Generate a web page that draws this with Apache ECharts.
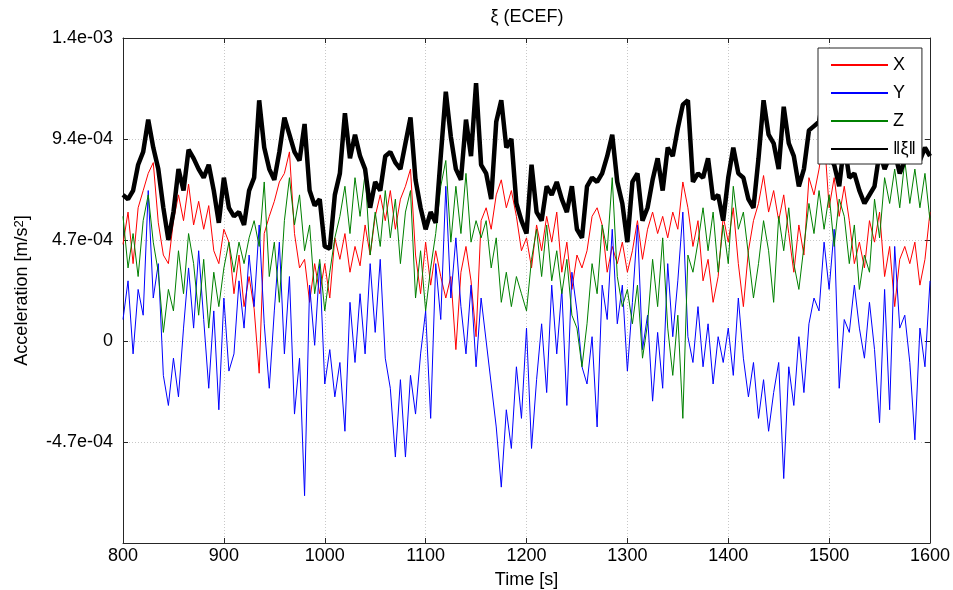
<!DOCTYPE html>
<html><head><meta charset="utf-8">
<script src="https://cdn.jsdelivr.net/npm/echarts@6/dist/echarts.min.js"></script>
<style>html,body{margin:0;padding:0;background:#fff}#c{width:953px;height:590px}</style>
</head><body><div id="c"></div>
<script>
// sample grid (s) and value unit (values below are in 1e-4 m/s^2)
const T_START = 800, T_STEP = 5;
const UNIT = 1e-4;
const seriesNames = ['X', 'Y', 'Z', '\u2016\u03be\u2016'];

const xVals = [
 4.5,6.0,3.6,6.2,7.0,7.8,8.3,5.5,4.0,3.6,5.6,6.8,5.6,7.3,5.4,6.5,5.2,6.3,4.2,3.6,
 5.2,4.6,2.2,4.0,1.6,3.0,1.5,-1.5,5.0,5.8,6.5,7.4,7.8,8.8,5.0,3.4,3.8,1.8,3.6,2.2,
 3.6,2.0,4.8,3.8,5.0,3.2,4.4,3.5,5.4,4.0,5.8,6.8,5.6,7.0,5.2,6.6,7.2,8.0,4.0,2.2,
 4.6,2.6,4.2,3.0,2.0,3.0,-0.4,3.2,4.4,2.8,0.2,5.6,6.2,5.2,6.8,7.5,6.2,7.0,5.8,4.2,
 4.8,3.4,5.4,4.2,5.8,4.6,6.0,3.2,4.6,2.4,4.0,3.4,4.2,5.8,6.2,5.4,3.2,4.4,3.6,4.6,
 3.2,4.2,5.6,3.8,5.2,6.0,5.0,5.8,4.8,6.0,5.2,7.4,6.2,4.4,5.6,2.8,3.8,1.8,3.0,5.8,
 4.6,6.2,3.6,1.6,4.2,5.6,6.4,7.7,6.0,7.0,5.6,6.8,5.0,3.2,5.4,4.0,7.6,6.8,8.0,9.6,
 6.2,7.6,5.8,7.2,5.6,3.6,4.6,3.4,5.6,4.6,6.0,3.0,4.4,1.6,3.8,4.4,3.6,4.6,2.6,3.8,
 6.0];
const yVals = [
 1.0,2.8,-0.6,2.4,1.2,7.0,2.0,3.6,-1.6,-3.0,-0.8,-2.6,0.6,3.4,0.6,4.2,1.0,-2.2,1.4,-3.2,
 2.0,-1.4,-0.6,2.8,0.6,4.0,1.6,5.4,0.8,-2.2,1.4,4.6,-0.6,3.0,-3.4,-0.8,-7.2,2.6,-0.2,3.6,
 -2.0,-0.4,-2.6,-1.0,-4.2,1.8,-1.0,2.2,-0.6,3.6,0.4,3.8,-0.8,-2.2,-5.4,-1.8,-5.4,-1.6,-3.4,-0.6,
 1.4,-3.6,3.6,1.0,7.2,2.0,4.8,1.6,-0.6,2.6,-1.2,2.0,0.0,-2.0,-4.0,-6.8,-3.2,-5.0,-1.2,-3.6,
 0.6,-5.0,-1.8,0.8,-2.4,2.6,-0.6,2.4,-3.0,3.2,1.4,-1.2,-2.0,0.2,-4.0,2.6,1.0,5.2,0.8,2.6,
 -1.4,1.8,5.4,-0.4,1.2,-2.8,0.4,-2.2,3.6,0.2,2.8,6.0,0.2,-1.0,1.6,-1.2,0.8,-2.0,0.2,-1.0,
 0.6,-1.6,2.0,-0.8,-2.6,-1.0,-3.6,-1.8,-4.2,-2.4,-1.0,-6.4,-1.2,-3.0,0.2,-2.4,0.8,2.0,1.4,4.6,
 2.4,5.2,-2.2,1.0,0.4,2.6,0.6,-0.8,1.8,-0.4,-3.8,2.4,-3.2,4.4,0.6,1.2,-1.0,-4.6,0.6,-1.2,
 2.8];
const zVals = [
 5.8,3.4,5.0,3.0,5.6,6.8,4.6,3.2,0.4,2.4,1.4,4.2,2.2,5.0,3.6,1.2,3.8,0.6,3.2,1.6,
 3.4,4.6,3.2,4.6,3.6,4.8,5.6,4.4,7.4,3.0,4.6,1.8,5.6,7.6,5.4,6.8,4.2,5.4,2.2,3.8,
 1.4,3.2,4.8,5.8,7.2,5.0,7.6,5.8,7.8,4.0,6.0,4.4,7.0,4.8,6.6,3.6,6.0,7.0,2.0,4.2,
 1.4,3.4,5.0,7.2,8.4,4.6,7.2,5.0,7.8,4.6,5.6,4.8,5.6,3.4,4.8,1.8,3.2,1.6,3.0,2.2,
 1.4,3.8,5.2,3.0,5.4,2.8,4.2,2.2,3.8,1.2,0.6,-1.2,0.8,3.6,2.2,5.4,4.2,7.6,3.0,1.6,
 2.4,0.8,2.6,-0.8,0.8,3.8,1.6,4.8,0.6,-1.6,1.2,-3.6,4.0,3.2,4.6,6.2,4.2,6.0,3.2,5.4,
 3.6,7.2,5.2,6.0,4.0,2.0,3.6,5.6,4.2,1.8,5.8,4.2,6.2,3.6,2.4,4.4,6.4,5.0,7.0,5.2,
 6.8,4.4,6.6,5.8,3.6,5.4,2.4,4.0,3.2,6.6,4.8,7.6,6.4,8.0,6.2,8.4,6.4,8.0,6.2,7.8,
 5.6];
const normVals = [
 6.8,6.6,7.0,8.2,8.8,10.3,9.0,8.0,6.2,4.7,6.0,8.0,7.0,8.9,8.5,8.0,7.6,8.2,7.0,5.5,
 7.6,6.2,5.8,6.0,5.4,7.0,7.6,11.2,9.0,8.0,7.5,8.8,10.4,9.6,8.8,8.4,10.1,7.0,6.3,6.6,
 4.4,4.3,6.8,7.8,10.6,8.5,9.6,8.6,8.0,6.2,7.4,7.0,8.6,8.8,8.3,8.0,9.2,10.4,7.5,6.2,
 5.2,6.0,5.5,8.6,11.6,9.5,8.0,7.5,10.3,8.6,12.0,8.2,7.8,6.6,10.2,11.2,9.0,9.4,6.4,5.6,
 5.0,8.2,6.0,5.6,7.2,6.8,7.4,6.6,6.0,7.2,5.2,4.8,7.2,7.6,7.4,7.8,8.6,9.6,7.4,6.4,
 4.6,7.4,7.8,5.6,6.2,7.5,8.5,7.0,9.0,8.6,9.9,11.0,11.2,7.4,7.8,7.6,8.5,6.6,6.8,5.6,
 7.6,9.0,7.8,7.6,6.6,6.2,8.5,11.2,9.6,9.2,8.0,10.9,9.2,8.6,7.2,8.0,9.8,10.0,10.2,11.6,
 8.6,8.2,7.2,9.2,7.6,7.8,7.0,6.4,6.8,7.2,8.8,8.0,8.6,8.8,7.8,8.4,9.8,8.8,8.4,9.0,
 8.6];

const X_MIN = 800, X_MAX = 1600, X_INT = 100;
const Y_INT = 4.7e-4, Y_MIN = -2 * Y_INT, Y_MAX = 3 * Y_INT;

function toPairs(vals){ return vals.map((v,i)=>[T_START + i*T_STEP, v*UNIT]); }
function fmtY(v){
  if (Math.abs(v) < 1e-12) return '0';
  const m = v.toExponential(1).match(/^(-?[\d.]+)e([+-])(\d+)$/);
  return m[1] + 'e' + m[2] + m[3].padStart(2,'0');
}
const FONT = "'Liberation Sans', Arial, Helvetica, sans-serif";
const AX = '#262626';
const GRIDLINE = {show:true, lineStyle:{color:'#c8c8c8', type:[1,2], width:1}};
const TICK = {show:true, inside:true, length:5, lineStyle:{color:AX}};
const LINE = {show:true, onZero:false, lineStyle:{color:AX, width:1}};

const chart = echarts.init(document.getElementById('c'), null, {renderer:'canvas'});
const commonY = {type:'value', min:Y_MIN, max:Y_MAX, interval:Y_INT};
const commonX = {type:'value', min:X_MIN, max:X_MAX, interval:X_INT};
chart.setOption({
  animation:false,
  backgroundColor:'#fff',
  textStyle:{fontFamily:FONT},
  title:{text:'\u03be (ECEF)', left:527, top:8, padding:0, textAlign:'center',
    textStyle:{fontSize:18, fontWeight:'normal', color:'#000', fontFamily:FONT}},
  grid:{left:123, right:23, top:38, bottom:47, containLabel:false, outerBoundsMode:'none'},
  legend:{
    orient:'vertical', left:818, top:48, padding:[8,6,6,12],
    itemWidth:57, itemHeight:14, itemGap:10,
    backgroundColor:'#fff', borderColor:AX, borderWidth:1, borderRadius:0,
    itemStyle:{color:'rgba(0,0,0,0)', borderWidth:0, opacity:0},
    textStyle:{fontSize:18, color:'#000', fontFamily:FONT},
    data:seriesNames
  },
  xAxis:[
    Object.assign({}, commonX, {position:'bottom',
      name:'Time [s]', nameLocation:'middle', nameGap:28,
      nameTextStyle:{fontSize:18, color:'#000', fontFamily:FONT},
      axisLine:LINE, axisTick:TICK,
      axisLabel:{show:true, margin:4, fontSize:18, color:'#000', fontFamily:FONT, formatter:v=>String(v)},
      splitLine:GRIDLINE}),
    Object.assign({}, commonX, {position:'top',
      axisLine:LINE, axisTick:TICK, axisLabel:{show:false}, splitLine:{show:false}})
  ],
  yAxis:[
    Object.assign({}, commonY, {position:'left',
      name:'Acceleration [m/s{sup|2}]', nameLocation:'middle', nameGap:91, nameRotate:90,
      nameTextStyle:{fontSize:18, color:'#000', fontFamily:FONT,
        rich:{sup:{fontSize:13, verticalAlign:'top', color:'#000', fontFamily:FONT, padding:[0,0,6,0]}}},
      axisLine:LINE, axisTick:TICK,
      axisLabel:{show:true, margin:10, fontSize:18, color:'#000', fontFamily:FONT,
        showMinLabel:false, formatter:fmtY},
      splitLine:GRIDLINE}),
    Object.assign({}, commonY, {position:'right',
      axisLine:LINE, axisTick:TICK, axisLabel:{show:false}, splitLine:{show:false}})
  ],
  series:[
    {name:seriesNames[0], type:'line', data:toPairs(xVals), symbol:'none', lineStyle:{color:'#ff0000', width:1}, itemStyle:{color:'#ff0000'}},
    {name:seriesNames[1], type:'line', data:toPairs(yVals), symbol:'none', lineStyle:{color:'#0000ff', width:1}, itemStyle:{color:'#0000ff'}},
    {name:seriesNames[2], type:'line', data:toPairs(zVals), symbol:'none', lineStyle:{color:'#008000', width:1}, itemStyle:{color:'#008000'}},
    {name:seriesNames[3], type:'line', data:toPairs(normVals), symbol:'none', lineStyle:{color:'#000', width:4.5}, itemStyle:{color:'#000'}}
  ]
});
</script></body></html>
